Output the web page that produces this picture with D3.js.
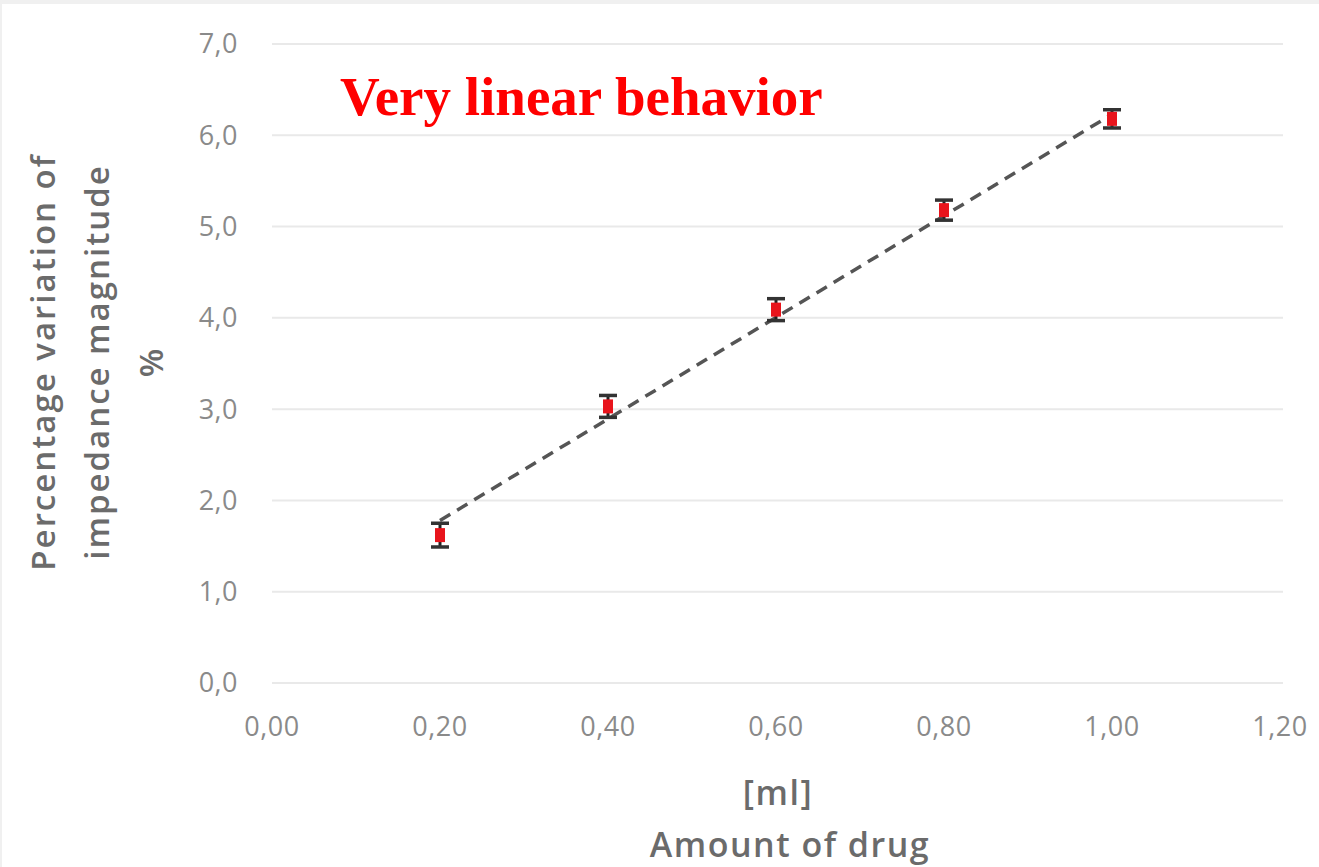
<!DOCTYPE html>
<html>
<head>
<meta charset="utf-8">
<script src="https://cdn.jsdelivr.net/npm/d3@7"></script>
<style>
  body { margin: 0; background: #f0f0f0; }
  svg { display: block; }
</style>
</head>
<body>
<div id="chart"></div>
<script>
// data
let doses = [0.2, 0.4, 0.6, 0.8, 1.0];
let variation = [1.62, 3.03, 4.09, 5.18, 6.18];
let errBar = [0.13, 0.12, 0.12, 0.11, 0.1];
let trendEnds = [[0.2, 1.78], [1.0, 6.23]];
let xTicks = [0, 0.2, 0.4, 0.6, 0.8, 1.0, 1.2];
let yTicks = [0, 1, 2, 3, 4, 5, 6, 7];

const W = 1319, H = 867;
const margin = {left: 272, right: 39, top: 44, bottom: 184};

let svg = d3.select('#chart').append('svg').attr('width', W).attr('height', H);
svg.append('rect').attr('x', 2).attr('y', 4).attr('width', W - 2).attr('height', H - 4).attr('fill', '#fff');

let x = d3.scaleLinear().domain([0, 1.2]).range([margin.left, W - margin.right]);
let y = d3.scaleLinear().domain([0, 7]).range([H - margin.bottom, margin.top]);

// gridlines
svg.append('g').selectAll('line').data(yTicks).join('line')
  .attr('x1', x(0)).attr('x2', x(1.2) + 3)
  .attr('y1', d => y(d)).attr('y2', d => y(d))
  .attr('stroke', '#e9e9e9').attr('stroke-width', 2);

const fmt = (d, n) => d.toFixed(n).replace('.', ',');

// y tick labels
svg.append('g').selectAll('text').data(yTicks).join('text')
  .attr('x', 238).attr('y', d => y(d)).attr('dy', '0.35em')
  .attr('text-anchor', 'end')
  .attr('font-family', 'Open Sans, sans-serif').attr('font-size', 27)
  .attr('letter-spacing', 0.5)
  .attr('fill', '#8a8a8a')
  .text(d => fmt(d, 1));

// x tick labels
svg.append('g').selectAll('text').data(xTicks).join('text')
  .attr('x', d => x(d)).attr('y', 727).attr('dy', '0.35em')
  .attr('text-anchor', 'middle')
  .attr('font-family', 'Open Sans, sans-serif').attr('font-size', 27)
  .attr('letter-spacing', 0.5)
  .attr('fill', '#8a8a8a')
  .text(d => fmt(d, 2));

// axis titles
let xt = svg.append('text')
  .attr('text-anchor', 'middle')
  .attr('font-family', 'Open Sans, sans-serif').attr('font-size', 34).attr('font-weight', 600)
  .attr('letter-spacing', 1.5)
  .attr('fill', '#6b6b6b');
xt.append('tspan').attr('x', 778).attr('y', 805).text('[ml]');
xt.append('tspan').attr('x', 790).attr('y', 857).text('Amount of drug');

let yt = svg.append('text')
  .attr('transform', 'translate(0,362) rotate(-90)')
  .attr('text-anchor', 'middle')
  .attr('font-family', 'Open Sans, sans-serif').attr('font-size', 33).attr('font-weight', 600)
  .attr('letter-spacing', 2)
  .attr('fill', '#6b6b6b');
yt.append('tspan').attr('x', 0).attr('y', 55).text('Percentage variation of');
yt.append('tspan').attr('x', 0).attr('y', 109).text('impedance magnitude');
yt.append('tspan').attr('x', 0).attr('y', 163).text('%');

// trend line
svg.append('path')
  .datum(trendEnds)
  .attr('d', d3.line().x(d => x(d[0])).y(d => y(d[1])))
  .attr('stroke', '#555').attr('stroke-width', 3.5)
  .attr('stroke-dasharray', '12,8').attr('fill', 'none');

// error bars
let pts = doses.map((d, i) => ({x: d, y: variation[i], e: errBar[i]}));
let eb = svg.append('g').selectAll('g').data(pts).join('g');
eb.append('line')
  .attr('x1', d => x(d.x)).attr('x2', d => x(d.x))
  .attr('y1', d => y(d.y - d.e)).attr('y2', d => y(d.y + d.e))
  .attr('stroke', '#222').attr('stroke-width', 3);
eb.selectAll('.cap').data(d => [d.y - d.e, d.y + d.e].map(v => ({x: d.x, v}))).join('line')
  .attr('x1', d => x(d.x) - 9).attr('x2', d => x(d.x) + 9)
  .attr('y1', d => y(d.v)).attr('y2', d => y(d.v))
  .attr('stroke', '#333').attr('stroke-width', 3.5);

// markers
svg.append('g').selectAll('rect').data(pts).join('rect')
  .attr('x', d => x(d.x) - 5).attr('y', d => y(d.y) - 7)
  .attr('width', 10).attr('height', 14)
  .attr('fill', '#e8141c');

// annotation
svg.append('text')
  .attr('x', 340).attr('y', 115)
  .attr('font-family', 'Liberation Serif, serif').attr('font-weight', 'bold').attr('font-size', 55)
  .attr('fill', '#ff0000')
  .text('Very linear behavior');
</script>
</body>
</html>
